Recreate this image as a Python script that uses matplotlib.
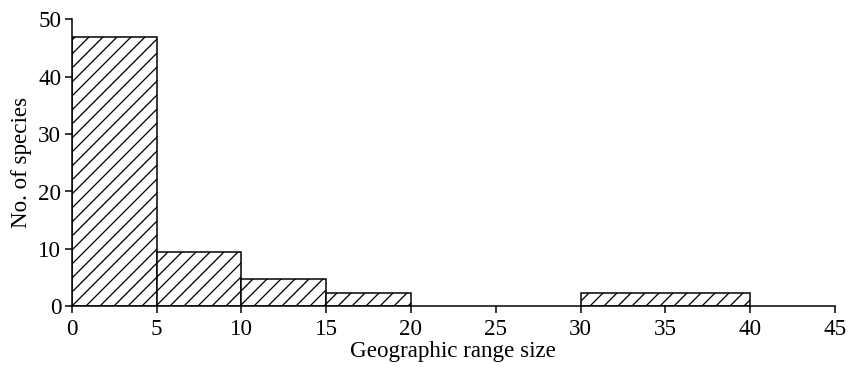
import matplotlib
matplotlib.use("Agg")
import matplotlib.pyplot as plt

# Histogram of geographic range sizes
bin_edges = [0, 5, 10, 15, 20, 25, 30, 40]
species_counts = [47, 9.5, 4.7, 2.3, 0, 0, 2.3]
x_ticks = [0, 5, 10, 15, 20, 25, 30, 35, 40, 45]
y_ticks = [0, 10, 20, 30, 40, 50]

DPI = 84
plt.rcParams["font.family"] = ["Liberation Serif", "DejaVu Serif"]
plt.rcParams["hatch.linewidth"] = 1.1
plt.rcParams["hatch.color"] = "black"

fs = 23 * 72 / DPI  # font size in points

fig = plt.figure(figsize=(850 / DPI, 368 / DPI), dpi=DPI)
ax = fig.add_axes([71.7 / 850, 1 - 306.3 / 368, (835 - 71.7) / 850, (306.3 - 19.3) / 368])

lefts = bin_edges[:-1]
widths = [b - a for a, b in zip(bin_edges[:-1], bin_edges[1:])]
for left, w, h in zip(lefts, widths, species_counts):
    if h <= 0:
        continue
    ax.bar(left, h, width=w, align="edge", facecolor="white",
           edgecolor="black", linewidth=1.3, hatch="//", zorder=2)

ax.set_xlim(0, 45)
ax.set_ylim(0, 50)
ax.set_xticks(x_ticks)
ax.set_yticks(y_ticks)
ax.spines["top"].set_visible(False)
ax.spines["right"].set_visible(False)
for s in ("left", "bottom"):
    ax.spines[s].set_linewidth(1.3)
ax.tick_params(direction="out", length=6, width=1.3, labelsize=fs, color="black")
ax.tick_params(axis="x", pad=5)
ax.tick_params(axis="y", pad=3)

ax.set_xlabel("Geographic range size", fontsize=fs, labelpad=1)
ax.set_ylabel("No. of species", fontsize=fs, labelpad=5)

fig.savefig("out.png", dpi=DPI)
